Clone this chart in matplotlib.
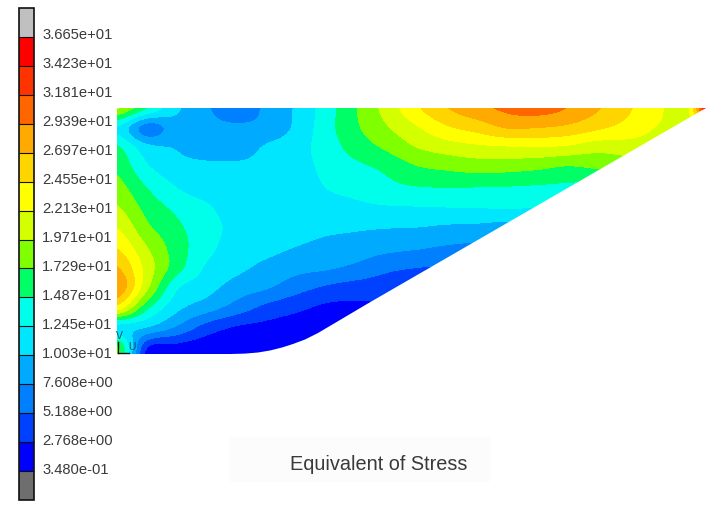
import numpy as np
import matplotlib
matplotlib.use("Agg")
import matplotlib.pyplot as plt
from matplotlib.colors import ListedColormap, BoundaryNorm
from matplotlib.patches import Polygon, Rectangle
from matplotlib.transforms import ScaledTranslation

plt.rcParams["font.family"] = ["Liberation Sans", "DejaVu Sans"]

W, H = 728, 511

# contour levels and their band colours (bottom to top)
levels = [0.348, 2.768, 5.188, 7.608, 10.03, 12.45, 14.87, 17.29, 19.71,
          22.13, 24.55, 26.97, 29.39, 31.81, 34.23, 36.65]
level_labels = ["3.480e-01", "2.768e+00", "5.188e+00", "7.608e+00", "1.003e+01",
                "1.245e+01", "1.487e+01", "1.729e+01", "1.971e+01", "2.213e+01",
                "2.455e+01", "2.697e+01", "2.939e+01", "3.181e+01", "3.423e+01",
                "3.665e+01"]
band_colors = ["#0000ff", "#0040ff", "#0080ff", "#00aaff", "#00e6ff", "#00ffea",
               "#00ff66", "#80ff00", "#d4ff00", "#ffff00", "#ffd500", "#ffaa00",
               "#ff6600", "#ff3300", "#ff0000"]

# stress at mesh nodes, in picture coordinates
node_x = [117, 147, 177, 207, 237, 267, 297, 327, 357, 387, 417,
          447, 477, 507, 537, 567, 597, 627, 657, 687, 717]
node_y = [108, 128, 148, 168, 188, 208, 228, 248, 268, 288, 308, 328, 348, 368]
stress = [
    [20, 15, 10.5, 8, 5.5, 8.3, 10.4, 13.8, 17.3, 20.7, 24.2, 26.9, 28.6, 29.9, 30.4, 29.4, 27.3, 25, 23, 21.5, 44],
    [12.4, 6.5, 9, 8.5, 8.2, 8.5, 10.6, 14, 17, 19.5, 21.9, 24.2, 25.5, 27.1, 27, 26.4, 25, 23.7, 22, 21, 21],
    [15.3, 11, 9.9, 9, 8.8, 10.4, 11.5, 13.7, 15.9, 17.7, 19.7, 20.8, 21.5, 21.8, 22, 21.6, 20.6, 20.8, 20.8, 20, 20],
    [16.8, 12.9, 11, 10.6, 10.6, 10.7, 11.3, 13.2, 14.3, 15.4, 17.05, 17.7, 18.2, 18.1, 17.7, 17, 17.5, 18, 18, 18, 18],
    [18.3, 14.9, 12.5, 11.3, 10.9, 10.9, 11.1, 12.5, 13.2, 14.2, 14.7, 14.87, 14.8, 14.7, 14.5, 14.3, 14, 14, 14, 14, 14],
    [20, 16.5, 14.3, 12.8, 11.2, 10.8, 11.1, 11.5, 11.9, 12.2, 12.3, 12.4, 12.5, 12.55, 12.5, 12.5, 12.5, 12.5, 12.5, 12.5, 12.5],
    [22.1, 17.9, 15.4, 13.4, 11.7, 10.6, 10.8, 10.5, 10.3, 10.1, 10, 9.6, 9.4, 9, 9, 9, 9, 9, 9, 9, 9],
    [24.5, 19.9, 16.1, 13.2, 11.2, 10.6, 9.95, 9.3, 8.9, 8.3, 7.85, 7.3, 7, 7, 7, 7, 7, 7, 7, 7, 7],
    [27.3, 21.2, 15.9, 12.1, 10.6, 9.4, 8.4, 7.9, 7, 5.7, 5.2, 5, 5, 5, 5, 5, 5, 5, 5, 5, 5],
    [29.2, 20.3, 12.8, 10.9, 8.9, 7.8, 6.1, 4.8, 4.1, 4, 4, 4, 4, 4, 4, 4, 4, 4, 4, 4, 4],
    [23.5, 15.5, 10.7, 8.65, 6.5, 4.5, 3.3, 2.3, 2.2, 2.5, 2.5, 2.5, 2.5, 2.5, 2.5, 2.5, 2.5, 2.5, 2.5, 2.5, 2.5],
    [11.5, 9.9, 7.2, 4.1, 2.5, 2, 1.6, 1.5, 1.5, 1.5, 1.5, 1.5, 1.5, 1.5, 1.5, 1.5, 1.5, 1.5, 1.5, 1.5, 1.5],
    [18, 3, 1.9, 1.3, 1, 1, 1, 1, 1, 1, 1, 1, 1, 1, 1, 1, 1, 1, 1, 1, 1],
    [18, 1, 1, 1, 1, 1, 1, 1, 1, 1, 1, 1, 1, 1, 1, 1, 1, 1, 1, 1, 1],
]

# plate outline: top edge, slanted side, fillet, bottom edge
outline_x = [117, 706, 367, 340, 318, 305, 293, 282, 270, 258, 245, 230, 117]
outline_y = [108, 108, 304, 320, 333, 339.5, 344, 347.5, 350.5, 352.5, 353.6, 354, 354]

fig = plt.figure(figsize=(W / 100, H / 100), dpi=100, facecolor="white")
ax = fig.add_axes([0, 0, 1, 1])
ax.set_xlim(0, W)
ax.set_ylim(H, 0)
ax.axis("off")

cmap = ListedColormap(band_colors)
cmap.set_under("#6e6e6e")
cmap.set_over("#c0c0c0")
norm = BoundaryNorm(levels, cmap.N)

# nodes sit at pixel centres, so the image runs half a cell past them
dx = node_x[1] - node_x[0]
dy = node_y[1] - node_y[0]
extent = (node_x[0] - dx / 2, node_x[-1] + dx / 2, node_y[-1] + dy / 2, node_y[0] - dy / 2)
im = ax.imshow(np.array(stress), extent=extent, cmap=cmap, norm=norm, aspect="auto",
               interpolation="catrom", interpolation_stage="data", origin="upper")
ax.set_xlim(0, W)
ax.set_ylim(H, 0)
plate = Polygon(np.column_stack([outline_x, outline_y]), closed=True, transform=ax.transData,
                facecolor="none", edgecolor="none")
ax.add_patch(plate)
im.set_clip_path(plate)

# coordinate triad at the origin
ax.plot([117.5, 117.5], [353, 342], color="#101010", lw=1.0)
ax.plot([117.5, 129], [353, 353], color="#101010", lw=1.0)
ax.text(119, 336, "V", color="#17505c", fontsize=7.5, ha="center", va="center")
ax.text(132, 347, "U", color="#17505c", fontsize=7.5, ha="center", va="center")

# caption with its faint backing
ax.add_patch(Rectangle((230, 437), 260, 45, facecolor="#fcfcfc", edgecolor="none"))
ax.text(378.5, 464, "Equivalent of Stress", color="#3a3a3a", fontsize=14.3, ha="center", va="center")

# legend bar
cax = fig.add_axes([18.5 / W, 1 - 500 / H, 15.5 / W, 492 / H])
cb = fig.colorbar(im, cax=cax, extend="both", extendrect=True, extendfrac=29 / 435,
                  drawedges=True, ticks=levels)
cb.set_ticklabels(level_labels)
cb.outline.set_edgecolor("#101010")
cb.outline.set_linewidth(1.2)
cb.dividers.set_color("#101010")
cb.dividers.set_linewidth(0.8)
cax.tick_params(length=0, pad=5.8, labelsize=10.6, labelcolor="#3a3a3a")
shift = ScaledTranslation(0, 3 / 72 * 0.72, fig.dpi_scale_trans)
for lab in cax.get_yticklabels():
    lab.set_transform(lab.get_transform() + shift)

fig.savefig("out.png", dpi=100)
plt.close(fig)
